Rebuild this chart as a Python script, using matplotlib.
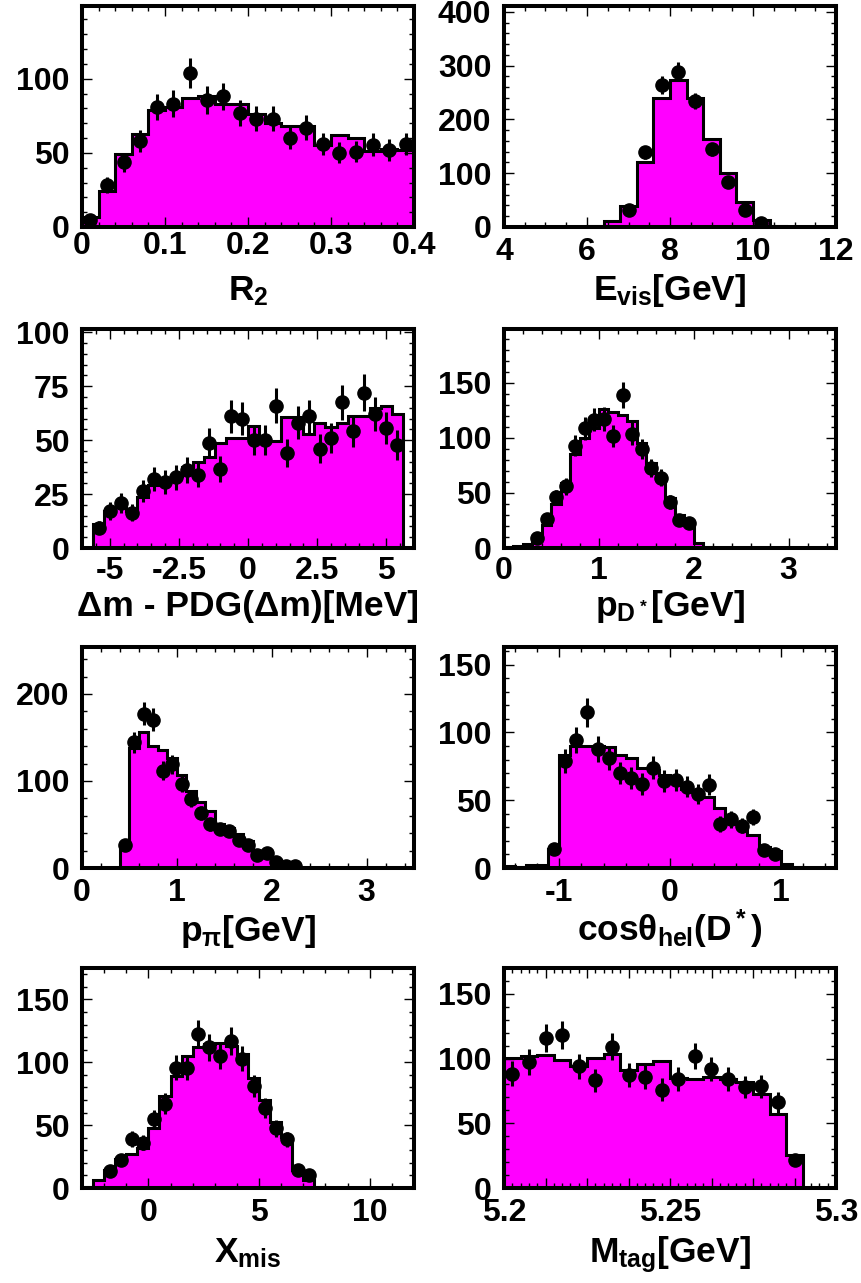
import numpy as np
import matplotlib
matplotlib.use('Agg')
import matplotlib.pyplot as plt
from matplotlib.ticker import MultipleLocator, FuncFormatter

plt.rcParams['font.family'] = ['Liberation Sans', 'DejaVu Sans']
plt.rcParams['font.weight'] = 'bold'
plt.rcParams['mathtext.fontset'] = 'custom'
plt.rcParams['mathtext.rm'] = 'Liberation Sans:bold'
plt.rcParams['mathtext.it'] = 'Liberation Sans:bold'
plt.rcParams['mathtext.bf'] = 'Liberation Sans:bold'

# ---- data (MC histogram = magenta, data = points) ----
r2_edges = np.linspace(0.0, 0.4, 21)
r2_mc = [7, 24, 49, 63, 79, 81, 87, 88.5, 83, 83, 76.5, 70, 68, 68, 55, 62, 60, 51, 52.5, 52]
r2_data = [4.5, 28.6, 43.5, 58, 81, 83, 104, 85.6, 88, 77, 73, 73, 60, 67, 56, 50, 50.7, 55.6, 52, 56]

evis_edges = np.linspace(4.0, 12.0, 21)
evis_mc = [0, 0, 0, 0, 0, 2, 11, 39, 120, 240, 274, 239, 164, 100, 46, 12.5, 1, 0, 0, 0]
evis_data = [0, 0, 0, 0, 0, 0, 0, 32, 139, 264, 289, 234, 145, 84, 32, 7, 0, 0, 0, 0]

dm_edges = np.linspace(-5.6, 5.6, 29)
dm_mc = [11, 17, 19, 17, 23.5, 29, 31, 33.6, 37.5, 40, 42, 48.5, 51, 51, 56.7, 50,
         49.5, 60.6, 60.6, 53, 58, 56, 58, 61, 61, 65, 66, 62]
dm_data = [9.4, 17, 21, 16.4, 26.5, 32, 30.5, 32.8, 36, 34, 48.8, 36.4, 61, 60, 50, 50,
           66, 44, 58, 61, 46, 51, 67.5, 54, 72, 62, 55.5, 47.6]

pd_edges = np.linspace(0.0, 3.5, 36)
pd_mc = [1, 2, 4, 9, 21, 40, 59, 85, 100, 109, 126, 124, 121, 115, 95, 77, 64, 45, 30, 23,
         4.5, 1, 0, 0, 0, 0, 0, 0, 0, 0, 0, 0, 0, 0, 0]
pd_data = [0, 0, 0, 9, 26.7, 46, 56, 93, 109, 116.7, 117.6, 101.5, 139, 104, 90, 72.7, 64,
           42, 25, 22.7, 0, 0, 0, 0, 0, 0, 0, 0, 0, 0, 0, 0, 0, 0, 0]

ppi_edges = np.linspace(0.0, 3.5, 36)
ppi_mc = [0, 0, 0, 0, 27, 137.6, 156, 140, 135.7, 126, 106.6, 89, 75.6, 65, 50, 46.5, 39.5,
          31, 20, 16, 9.7, 4, 2, 0, 0, 0, 0, 0, 0, 0, 0, 0, 0, 0, 0]
ppi_data = [0, 0, 0, 0, 27, 144.6, 177.5, 170.5, 112, 119, 97, 79.5, 63, 50, 44.6, 42.6,
            31.8, 27, 15.5, 16.7, 7, 2.7, 2, 0, 0, 0, 0, 0, 0, 0, 0, 0, 0, 0, 0]

cos_edges = np.linspace(-1.5, 1.5, 31)
cos_mc = [1.2, 1, 2.5, 2.5, 14, 83, 90, 90, 90, 89, 83.5, 81.5, 74, 72, 68.4, 66, 58.4,
          56.4, 52, 44, 37, 32.6, 24.6, 15.5, 12.5, 3.3, 0.5, 0, 0, 0]
cos_data = [0, 0, 0, 0, 14.3, 79, 94.5, 114.8, 87.7, 81, 70, 66.4, 62, 74, 64, 64.7, 60,
            54.4, 61.4, 32.6, 35.8, 31.3, 37.6, 13, 10, 0, 0, 0, 0, 0]

xmis_edges = np.linspace(-3.0, 12.0, 31)
xmis_mc = [0.5, 6, 14, 23, 27, 32, 47.5, 73.5, 89, 105, 112, 114.5, 115, 113, 106.4, 87.7,
           70, 52.8, 40.8, 14, 6, 1, 0, 0, 0, 0, 0, 0, 0, 0]
xmis_data = [0, 0, 13.4, 22.5, 38.9, 36, 54.7, 67, 95.7, 95.7, 122.5, 111.8, 105, 117, 103,
             81, 63.5, 47.5, 38.6, 14, 10, 0, 0, 0, 0, 0, 0, 0, 0, 0]

mtag_edges = np.linspace(5.2, 5.3, 21)
mtag_mc = [100.8, 102, 103, 98.7, 94, 100.5, 103.4, 91, 95.6, 98, 85, 84.5, 85.8, 84.5, 82,
           73, 57.4, 25.6, 0, 0]
mtag_data = [88.4, 97.4, 116, 118, 94, 83.2, 109, 87, 85.8, 76, 84.5, 102, 92, 84.5, 78,
             78.5, 66.4, 21.7, 0, 0]

W, H = 861, 1283
fig = plt.figure(figsize=(W / 100, H / 100), dpi=100)

cols = [(82, 414), (504, 836)]
rows = [(6, 227), (329, 548), (647, 868), (968, 1188)]
label_base = [300, 616, 941, 1262]
xpads = [7, 7, 6, 6, 7, 7, 7, 7]
xpads[0] = 3


def fmt(v, pos):
    v = round(v, 6)
    if v == 0:
        return '0'
    return f'{v:g}'


def fmt_mtag(v, pos):
    k = v * 20
    if abs(k - round(k)) < 1e-6:
        return f'{round(v, 6):g}'
    return ''


panels = [
    (r2_edges, r2_mc, r2_data, (0, 0.4), 149, 0.1, 0.02, 50, 10, r'$R_2$'),
    (evis_edges, evis_mc, evis_data, (4, 12), 411, 2, 0.5, 100, 20, r'$E_{vis}$[GeV]'),
    (dm_edges, dm_mc, dm_data, (-6, 6), 101.5, 2.5, 0.5, 25, 5, 'Δm - PDG(Δm)[MeV]'),
    (pd_edges, pd_mc, pd_data, (0, 3.5), 199, 1, 0.2, 50, 10, r'$p_{D^*}$[GeV]'),
    (ppi_edges, ppi_mc, ppi_data, (0, 3.5), 254, 1, 0.2, 100, 20, r'$p_{\pi}$[GeV]'),
    (cos_edges, cos_mc, cos_data, (-1.5, 1.5), 163, 1, 0.2, 50, 10, r'cos$\theta_{hel}$(D$^*$)'),
    (xmis_edges, xmis_mc, xmis_data, (-3, 12), 175, 5, 1, 50, 10, r'$X_{mis}$'),
    (mtag_edges, mtag_mc, mtag_data, (5.2, 5.3), 170, 0.0125, 0.0025, 50, 10, r'$M_{tag}$[GeV]'),
]

for i, (edges, mc, data, xlim, ytop, xmaj, xmin, ymaj, ymin, label) in enumerate(panels):
    r, c = divmod(i, 2)
    x0, x1 = cols[c]
    y0, y1 = rows[r]
    ax = fig.add_axes([x0 / W, 1 - y1 / H, (x1 - x0) / W, (y1 - y0) / H])

    mc = np.array(mc, dtype=float)
    data = np.array(data, dtype=float)
    centers = 0.5 * (edges[:-1] + edges[1:])

    ax.stairs(mc, edges, fill=True, facecolor='#ff00ff', edgecolor='none')
    ax.stairs(mc, edges, baseline=0, color='black', lw=2.2)
    m = data > 0
    ax.errorbar(centers[m], data[m], yerr=np.sqrt(data[m]), fmt='o', color='black',
                ms=9.5, elinewidth=2.2, capsize=0)

    ax.set_xlim(*xlim)
    ax.set_ylim(0, ytop)
    ax.xaxis.set_major_locator(MultipleLocator(xmaj))
    ax.xaxis.set_minor_locator(MultipleLocator(xmin))
    ax.yaxis.set_major_locator(MultipleLocator(ymaj))
    ax.yaxis.set_minor_locator(MultipleLocator(ymin))
    ax.yaxis.set_major_formatter(FuncFormatter(fmt))
    if i == 7:
        ax.xaxis.set_major_formatter(FuncFormatter(fmt_mtag))
    else:
        ax.xaxis.set_major_formatter(FuncFormatter(fmt))

    ax.tick_params(which='both', direction='in', top=True, right=True, width=1, color='black')
    ax.tick_params(which='major', length=7.5, labelsize=23)
    ax.tick_params(which='minor', length=3.8)
    ax.tick_params(axis='x', which='major', pad=xpads[i])
    ax.tick_params(axis='y', which='major', pad=9)
    for s in ax.spines.values():
        s.set_linewidth(2.9)

    fig.text((x0 + x1) / 2 / W, 1 - label_base[r] / H, label, ha='center', va='baseline',
             fontsize=25.5, fontweight='bold')

fig.savefig('out.png', dpi=100)
